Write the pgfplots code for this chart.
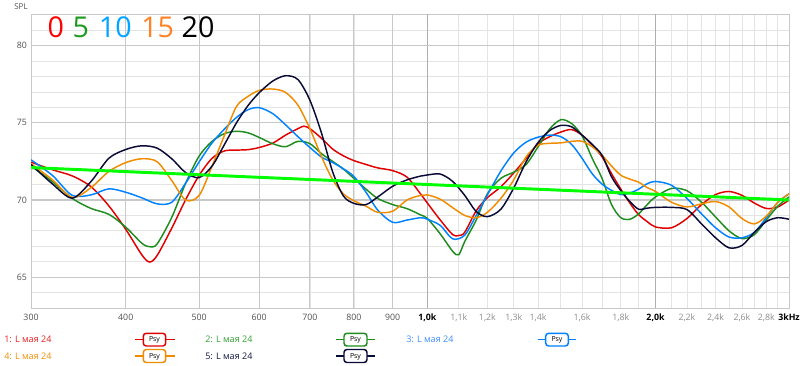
\documentclass[border=0pt]{standalone}
\usepackage{pgfplots}
\pgfplotsset{compat=1.18}
\usepackage{fontspec}
\setmainfont{Open Sans}

\definecolor{cred}{RGB}{225,0,0}
\definecolor{cgreen}{RGB}{30,140,30}
\definecolor{cblue}{RGB}{0,130,255}
\definecolor{corange}{RGB}{240,140,0}
\definecolor{cnavy}{RGB}{10,10,55}
\definecolor{cref}{RGB}{0,255,0}
\definecolor{gmaj}{RGB}{200,200,200}
\definecolor{gmin}{RGB}{228,228,228}
\definecolor{gdark}{RGB}{175,175,175}
\definecolor{tdark}{RGB}{80,80,80}
\definecolor{tlight}{RGB}{140,140,140}
\definecolor{lred}{RGB}{228,30,30}
\definecolor{lgreen}{RGB}{50,160,50}
\definecolor{lblue}{RGB}{60,140,255}
\definecolor{lorange}{RGB}{240,140,0}
\definecolor{lnavy}{RGB}{20,20,70}
\definecolor{nred}{RGB}{255,0,0}
\definecolor{ngreen}{RGB}{30,155,30}
\definecolor{nblue}{RGB}{0,165,255}
\definecolor{norange}{RGB}{255,130,40}

\pgfplotstableread{
f v
300 72.45
320 71.96
340 71.56
360 70.86
380 69.62
400 68.1
420 66.45
430 65.98
440 66.4
460 68.17
480 70.03
500 71.6
520 72.7
540 73.18
560 73.23
580 73.26
600 73.4
625 73.68
650 74.2
675 74.62
687 74.78
700 74.62
725 74.0
750 73.3
775 72.86
800 72.55
830 72.3
860 72.08
900 71.9
940 71.48
980 70.38
1000 69.8
1040 68.7
1080 67.75
1100 67.7
1120 67.9
1160 69.3
1200 70.15
1250 70.85
1300 71.75
1350 72.7
1400 73.65
1450 74.1
1500 74.4
1550 74.56
1600 74.2
1650 73.55
1700 72.8
1750 71.7
1800 70.7
1850 69.8
1900 69.05
1950 68.6
2000 68.25
2100 68.2
2200 68.8
2300 69.7
2400 70.35
2500 70.55
2600 70.3
2700 69.8
2800 69.45
2900 69.55
3000 70.0
}\tred

\pgfplotstableread{
f v
300 72.2
320 71.2
340 70.1
360 69.45
380 69.07
400 68.24
420 67.2
430 66.97
440 67.15
460 68.87
480 71.1
500 72.85
520 73.8
540 74.3
560 74.45
580 74.35
600 74.05
625 73.65
650 73.45
675 73.8
700 73.65
725 73.0
750 72.5
775 72.0
800 71.4
830 70.7
860 70.1
900 69.7
940 69.44
980 69.03
1000 68.8
1040 67.8
1080 66.67
1100 66.45
1120 67.3
1160 68.7
1200 70.4
1250 71.4
1300 71.8
1350 72.3
1400 73.45
1450 74.6
1500 75.2
1550 74.95
1600 74.15
1650 72.7
1700 71.4
1750 69.7
1800 68.85
1850 68.75
1900 69.1
1950 69.7
2000 70.2
2100 70.75
2200 70.6
2300 69.85
2400 68.9
2500 68.0
2600 67.5
2700 67.75
2800 68.7
2900 69.6
3000 70.2
}\tgreen

\pgfplotstableread{
f v
300 72.6
320 71.6
340 70.3
360 70.33
380 70.72
400 70.5
420 70.14
440 69.75
460 69.85
480 71.1
500 72.47
520 73.7
540 74.6
560 75.35
580 75.85
600 75.98
625 75.6
650 74.87
675 74.1
700 73.4
725 72.78
750 72.43
775 72.02
800 71.52
830 70.5
860 69.35
900 68.55
940 68.7
980 68.85
1000 68.75
1040 68.35
1080 67.48
1120 67.72
1160 69.0
1200 70.33
1250 71.87
1300 73.05
1350 73.75
1400 74.07
1450 74.2
1500 74.1
1550 73.6
1600 72.7
1650 71.7
1700 71.03
1750 70.62
1800 70.35
1850 70.45
1900 70.7
1950 71.05
2000 71.2
2100 70.95
2200 70.1
2300 69.1
2400 68.2
2500 67.6
2600 67.55
2700 67.9
2800 68.85
2900 69.85
3000 70.4
}\tblue

\pgfplotstableread{
f v
300 72.35
320 71.32
340 70.17
360 70.8
380 71.85
400 72.42
420 72.67
440 72.48
460 71.26
480 69.99
500 70.3
520 72.2
540 74.2
560 76.06
580 76.71
600 77.1
625 77.19
650 76.97
675 76.14
700 74.62
725 72.81
750 71.32
775 70.4
800 69.95
830 69.6
860 69.2
900 69.27
940 70.0
980 70.3
1000 70.33
1040 70.05
1080 69.5
1120 69.0
1160 68.85
1200 69.2
1250 70.1
1300 71.3
1350 72.8
1400 73.55
1450 73.67
1500 73.7
1550 73.8
1600 73.8
1650 73.45
1700 72.9
1750 72.2
1800 71.6
1850 71.35
1900 71.15
1950 70.8
2000 70.55
2100 69.85
2200 69.55
2300 69.75
2400 69.9
2500 69.55
2600 68.8
2700 68.45
2800 68.95
2900 69.85
3000 70.4
}\torange

\pgfplotstableread{
f v
300 72.3
320 71.05
340 70.12
360 71.2
380 72.7
400 73.27
420 73.51
440 73.36
460 72.67
480 71.77
500 71.45
520 72.2
540 73.6
560 75.0
580 76.12
600 76.95
625 77.7
650 78.05
675 77.8
700 76.46
725 74.34
750 71.83
775 70.26
800 69.78
830 69.7
860 70.19
900 70.89
940 71.3
980 71.55
1000 71.62
1040 71.68
1080 71.2
1120 70.3
1160 69.25
1200 68.92
1250 69.4
1300 70.78
1350 72.48
1400 73.73
1450 74.5
1500 74.83
1550 74.74
1600 74.2
1650 73.6
1700 72.9
1750 71.5
1800 70.6
1850 69.9
1900 69.4
1950 69.47
2000 69.52
2100 69.52
2200 69.38
2300 68.45
2400 67.55
2500 66.9
2600 67.05
2700 67.9
2800 68.6
2900 68.85
3000 68.75
}\tnavy

\pgfplotstableread{
f v
300 72.1
3000 70.0
}\tref

\newcommand\lfont{\fontsize{6.8}{8}\selectfont}
\newcommand\pfont{\fontsize{5.2}{6}\selectfont}

\begin{document}
\begin{tikzpicture}
\useasboundingbox (0,0) rectangle (603pt,273.75pt);
\begin{axis}[
  at={(23.25pt,42.75pt)}, anchor=south west,
  scale only axis, width=568.5pt, height=220.5pt,
  xmode=log, xmin=300, xmax=3000, ymin=63, ymax=82.05,
  xtick={300,400,500,600,700,800,900,1000,1100,1200,1300,1400,1600,1800,2000,2200,2400,2600,2800,3000},
  xticklabels={{\textcolor{tdark}{300}},{\textcolor{tdark}{400}},{\textcolor{tdark}{500}},{\textcolor{tdark}{600}},{\textcolor{tdark}{700}},{\textcolor{tdark}{800}},{\textcolor{tdark}{900}},
    {\textbf{1,0k}},{\textcolor{tlight}{1,1k}},{\textcolor{tlight}{1,2k}},{\textcolor{tlight}{1,3k}},{\textcolor{tlight}{1,4k}},{\textcolor{tlight}{1,6k}},{\textcolor{tlight}{1,8k}},
    {\textbf{2,0k}},{\textcolor{tlight}{2,2k}},{\textcolor{tlight}{2,4k}},{\textcolor{tlight}{2,6k}},{\textcolor{tlight}{2,8k}},{\textbf{3kHz}}},
  minor xtick={1500,1700,1900,2100,2300,2500,2700,2900},
  ytick={65,70,75,80},
  minor ytick={63,64,...,82},
  grid=both,
  major grid style={gmin, line width=0.6pt},
  minor grid style={gmin, line width=0.6pt},
  major tick length=0pt, minor tick length=0pt,
  axis line style={gmaj, line width=0.7pt},
  tick label style={font=\fontsize{6.6}{8}\selectfont},
  yticklabel style={text=tdark, xshift=0.5pt},
  xticklabel style={yshift=-1pt},
  /pgf/number format/assume math mode=true,
  clip=true,
]
\pgfplotsinvokeforeach{300,400,500,600,700,800,900}{
  \draw[gmaj, line width=0.7pt] (axis cs:#1,63) -- (axis cs:#1,82.05);
}
\pgfplotsinvokeforeach{1000,2000}{
  \draw[gdark, line width=0.8pt] (axis cs:#1,63) -- (axis cs:#1,82.05);
}
\pgfplotsinvokeforeach{65,70,75,80}{
  \draw[gmaj, line width=0.8pt] (axis cs:300,#1) -- (axis cs:3000,#1);
}
\addplot[cred, line width=1.1pt, smooth] table[x=f,y=v] {\tred};
\addplot[cgreen, line width=1.1pt, smooth] table[x=f,y=v] {\tgreen};
\addplot[cblue, line width=1.1pt, smooth] table[x=f,y=v] {\tblue};
\addplot[corange, line width=1.1pt, smooth] table[x=f,y=v] {\torange};
\addplot[cnavy, line width=1.1pt, smooth] table[x=f,y=v] {\tnavy};
\addplot[cref, line width=2.2pt] table[x=f,y=v] {\tref};
\end{axis}

\begin{scope}[shift={(0pt,273.75pt)}, x=0.75pt, y=-0.75pt]
  \node[font=\fontsize{6}{7}\selectfont, text=tdark, inner sep=0] at (21,6.5) {SPL};
  % big legend
  \begin{scope}[every node/.style={anchor=base, inner sep=0, font=\fontsize{21.5}{22}\selectfont}]
    \node[text=nred] at (55.8,37.3) {0};
    \node[text=ngreen] at (80.7,37.3) {5};
    \node[text=nblue] at (115.3,37.3) {10};
    \node[text=norange] at (157.7,37.3) {15};
    \node[text=black] at (198,37.3) {20};
  \end{scope}
  % bottom legend
  \begin{scope}[every node/.style={inner sep=0}]
    \node[anchor=west, text=lred, font=\lfont] at (4,339.5) {1: L мая 24};
    \node[anchor=west, text=lgreen, font=\lfont] at (205,339.5) {2: L мая 24};
    \node[anchor=west, text=lblue, font=\lfont] at (406,339.5) {3: L мая 24};
    \node[anchor=west, text=lorange, font=\lfont] at (4,356) {4: L мая 24};
    \node[anchor=west, text=lnavy, font=\lfont] at (205,356) {5: L мая 24};
    % boxes
    \draw[cred, line width=1.1pt] (135,339.5) -- (175,339.5);
    \draw[cred, line width=1.1pt, rounded corners=2.2pt, fill=white] (143.3,333.3) rectangle (165.7,346);
    \node[font=\pfont] at (154.5,340) {Psy};
    \draw[cgreen, line width=1.1pt] (336,339.5) -- (375,339.5);
    \draw[cgreen, line width=1.1pt, rounded corners=2.2pt, fill=white] (344,333.3) rectangle (367,346);
    \node[font=\pfont] at (355.5,340) {Psy};
    \draw[cblue, line width=1.1pt] (537.7,339.5) -- (576,339.5);
    \draw[cblue, line width=1.1pt, rounded corners=2.2pt, fill=white] (545.7,333.3) rectangle (568.3,346);
    \node[font=\pfont] at (557,340) {Psy};
    \draw[corange, line width=1.1pt] (135,356) -- (175,356);
    \draw[corange, line width=1.1pt, rounded corners=2.2pt, fill=white] (143.3,349.5) rectangle (165.7,362.5);
    \node[font=\pfont] at (154.5,356.5) {Psy};
    \draw[cnavy, line width=1.1pt] (336,356) -- (375,356);
    \draw[cnavy, line width=1.1pt, rounded corners=2.2pt, fill=white] (344,349.5) rectangle (367,362.5);
    \node[font=\pfont] at (355.5,356.5) {Psy};
  \end{scope}
\end{scope}
\end{tikzpicture}
\end{document}
